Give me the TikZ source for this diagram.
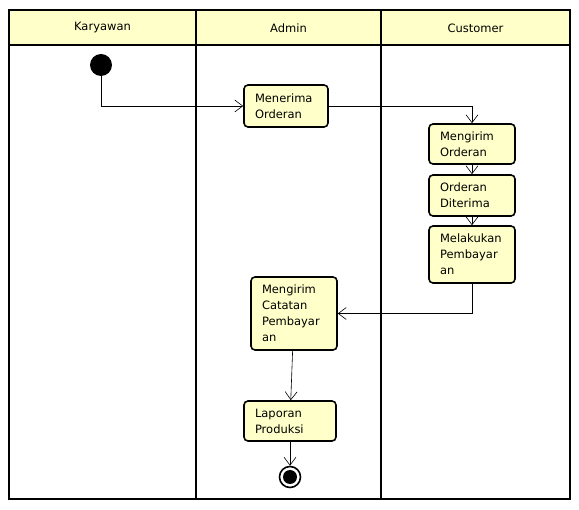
\documentclass[tikz,border=0pt]{standalone}
\usepackage{fontspec}
\setmainfont{DejaVu Sans}
\usetikzlibrary{arrows.meta}
\definecolor{umlfill}{HTML}{FFFFCA}

\begin{document}
\begin{tikzpicture}[x=1pt, y=-1pt,
    act/.style = {shape=rectangle, rounded corners=4pt, draw, line width=1.6pt,
      fill=umlfill, align=left, inner xsep=11pt, inner ysep=0pt,
      font=\fontsize{11.5}{16}\selectfont},
    lane/.style = {font=\fontsize{11.5}{13}\selectfont},
    flow/.style = {-{Straight Barb[length=8pt,width=12pt]}, line width=0.6pt}]
  \useasboundingbox (0,0) rectangle (579,510);
  % swimlanes
  \fill[umlfill] (9,10) rectangle (570,45);
  \draw[line width=1.2pt] (9,45) -- (570,45);
  \draw[line width=2pt] (9,10) rectangle (570,499);
  \draw[line width=2.4pt] (196,10) -- (196,499) (381,10) -- (381,499);
  \node[lane] (karyawan) at (102.5,28) {Karyawan};
  \node[lane] (admin) at (288.5,28) {Admin};
  \node[lane] (customer) at (475.5,28) {Customer};
  % activities
  \node[circle, fill=black, minimum size=22pt, inner sep=0pt] (start) at (101,65) {};
  \node[act, text width=62pt, minimum height=42pt] (terima) at (286,106) {Menerima\\Orderan};
  \node[act, text width=64pt, minimum height=40pt] (kirim) at (472,144) {Mengirim\\Orderan};
  \node[act, text width=64pt, minimum height=41pt] (diterima) at (472,195.5) {Orderan\\Diterima};
  \node[act, text width=64pt, minimum height=57pt] (bayar) at (472,254.5) {Melakukan\\Pembayar\\an};
  \node[act, text width=64pt, minimum height=73pt] (catatan) at (294,313.5) {Mengirim\\Catatan\\Pembayar\\an};
  \node[act, text width=70pt, minimum height=40pt] (laporan) at (290,421) {Laporan\\Produksi};
  \node[circle, draw, line width=1.6pt, minimum size=21pt, inner sep=0pt] (end) at (290,477) {};
  \fill (end) circle (7pt);
  % flows
  \draw[flow] (start) |- (terima);
  \draw[flow] (terima) -| (kirim);
  \draw[flow] (kirim) -- (diterima);
  \draw[flow] (diterima) -- (bayar);
  \draw[flow] (bayar) |- (catatan);
  \draw[flow] (catatan) -- (laporan);
  \draw[flow] (laporan) -- (end);
\end{tikzpicture}
\end{document}
